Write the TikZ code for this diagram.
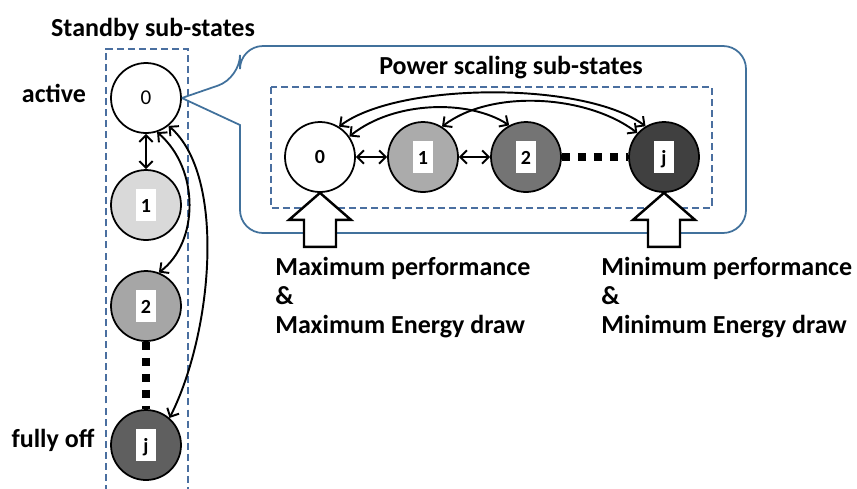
\documentclass[tikz,border=0pt]{standalone}
\usepackage{fontspec}
\setmainfont{Carlito}
\usepackage{tikz,xcolor}
\usetikzlibrary{arrows.meta}

\definecolor{bubblecol}{HTML}{41719C}
\definecolor{dashcol}{HTML}{4A6FA0}
\definecolor{gA}{HTML}{D9D9D9}
\definecolor{gB}{HTML}{A6A6A6}
\definecolor{gC}{HTML}{5F5F5F}
\definecolor{pB}{HTML}{ABABAB}
\definecolor{pC}{HTML}{747474}
\definecolor{pD}{HTML}{404040}

\newcommand{\numbox}[1]{{\setlength{\fboxsep}{0pt}\colorbox{white}{\makebox[11pt]{\rule[-5pt]{0pt}{18pt}#1}}}}

\begin{document}
\begin{tikzpicture}[x=0.02cm,y=-0.02cm]
\tikzstyle{state}=[draw,circle,line width=1pt,minimum size=1.4cm,inner sep=0pt,font=\fontsize{11.4}{13}\selectfont\bfseries]
\tikzstyle{txt}=[inner sep=0pt,font=\fontsize{14.8}{16.5}\selectfont\bfseries]
\tikzstyle{dashbox}=[draw=dashcol,line width=0.9pt,dash pattern=on 4pt off 2.3pt]
\tikzstyle{bubble}=[draw=bubblecol,line width=1pt]
\tikzstyle{dblarrow}=[line width=1.1pt,{Straight Barb[length=3.8pt,width=7.5pt]}-{Straight Barb[length=3.8pt,width=7.5pt]}]
\tikzstyle{dotline}=[line width=4.55pt,dash pattern=on 4.55pt off 4.55pt]
\tikzstyle{blockarrow}=[draw,fill=white,line width=1.4pt,line join=miter]
\useasboundingbox (0,0) rectangle (857,488);

    % standby column
    \draw[dashbox] (106,492) -- (106,49) -- (188,49) -- (188,492);
    \node[txt](stitle) at (153,29){Standby sub-states};
    \node[txt](lact) at (54,93){active};
    \node[txt](loff) at (53,440){fully off};
    \node[state,font=\fontsize{12}{13}\selectfont](s0) at (146,98){0};
    \node[state,fill=gA](s1) at (146,205){\numbox{1}};
    \node[state,fill=gB](s2) at (146,306){\numbox{2}};
    \node[state,fill=gC](sj) at (146,445){\numbox{j}};
    \draw[dblarrow](s0)--(s1);
    \draw[dblarrow](s0.-72) .. controls +(43,37) and +(40,-30) .. (s2.69);
    \draw[dblarrow](s0.-51) .. controls +(58,50) and +(43,-85) .. (sj.49);
    \draw[dotline](s2.south)--(sj.north);

    % callout
    \draw[bubble] (s0.east) -- (240,125) [rounded corners=0.12cm] -- (240,150) [rounded corners=0.46cm] -- (240,233) -- (746,233) -- (746,46) -- (240,46) -- (240,78) [rounded corners=0.12cm] -- (s0.east);
    \draw[dashbox] (271,87) rectangle (712,208);
    \node[txt](ptitle) at (511,68){Power scaling sub-states};
    \node[state](p0) at (320,157){0};
    \node[state,fill=pB](p1) at (423,157){\numbox{1}};
    \node[state,fill=pC](p2) at (526,157){\numbox{2}};
    \node[state,fill=pD](pj) at (664,157){\numbox{j}};
    \draw[dblarrow](p0)--(p1);
    \draw[dblarrow](p1)--(p2);
    \draw[dotline](p2.east)--(pj.west);
    \draw[dblarrow](p0.58) .. controls +(60,-45) and +(-60,-45) .. (pj.121);
    \draw[dblarrow](p0.35) .. controls +(45,-36) and +(-40,-26) .. (p2.118);
    \draw[dblarrow](p1.58) .. controls +(50,-38) and +(-50,-38) .. (pj.138);

    % block arrows
    \draw[blockarrow] (p0.south) -- ++(31,27) -- ++(-15,0) -- ++(0,27) -- ++(-32,0) -- ++(0,-27) -- ++(-15,0) -- cycle;
    \draw[blockarrow] (pj.south) -- ++(31,27) -- ++(-15,0) -- ++(0,27) -- ++(-32,0) -- ++(0,-27) -- ++(-15,0) -- cycle;
    \node[txt,anchor=north west,align=left](maxtxt) at (275,257){Maximum performance\\\&\\Maximum Energy draw};
    \node[txt,anchor=north west,align=left](mintxt) at (601,257){Minimum performance\\\&\\Minimum Energy draw};
\end{tikzpicture}
\end{document}
